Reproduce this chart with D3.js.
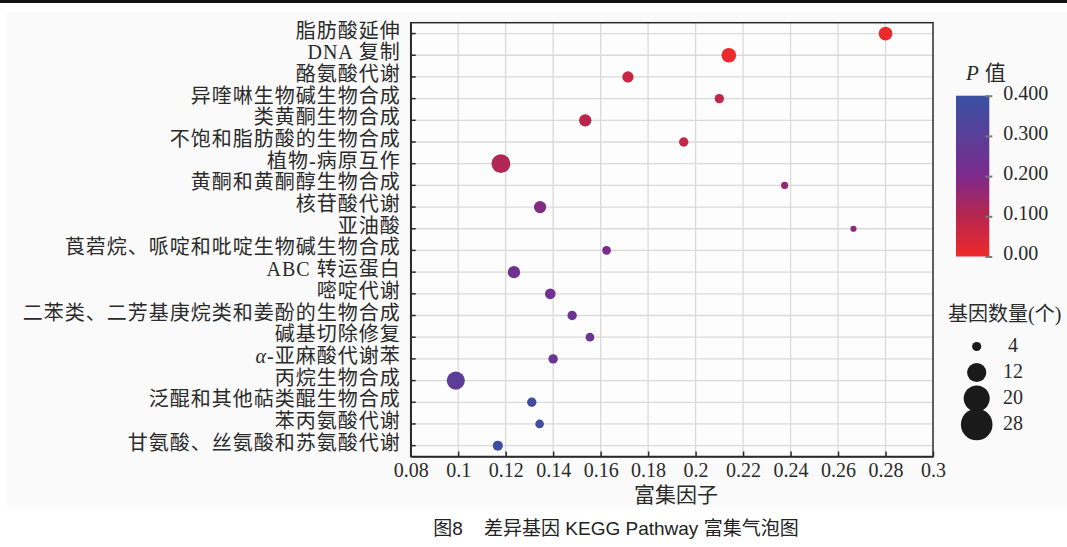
<!DOCTYPE html>
<html>
<head>
<meta charset="utf-8">
<script src="https://cdn.jsdelivr.net/npm/d3@7"></script>
<style>
  html, body { margin: 0; padding: 0; background: #ffffff; }
  svg { display: block; }
</style>
</head>
<body>
<svg id="chart" width="1067" height="547"></svg>
<script>
// KEGG pathways, top to bottom
const categories = [
  "脂肪酸延伸",
  "DNA 复制",
  "酪氨酸代谢",
  "异喹啉生物碱生物合成",
  "类黄酮生物合成",
  "不饱和脂肪酸的生物合成",
  "植物-病原互作",
  "黄酮和黄酮醇生物合成",
  "核苷酸代谢",
  "亚油酸",
  "莨菪烷、哌啶和吡啶生物碱生物合成",
  "ABC 转运蛋白",
  "嘧啶代谢",
  "二苯类、二芳基庚烷类和姜酚的生物合成",
  "碱基切除修复",
  "α-亚麻酸代谢苯",
  "丙烷生物合成",
  "泛醌和其他萜类醌生物合成",
  "苯丙氨酸代谢",
  "甘氨酸、丝氨酸和苏氨酸代谢"
];

// Rich factor per pathway
const enrichment = [0.280, 0.214, 0.1715, 0.210, 0.1535, 0.195, 0.118, 0.2375, 0.1345, 0.2665,
                    0.1625, 0.1235, 0.1388, 0.148, 0.1555, 0.140, 0.099, 0.131, 0.1343, 0.1167];

// P value per pathway
const pValues = [0.004, 0.008, 0.07, 0.085, 0.095, 0.08, 0.11, 0.16, 0.19, 0.18,
                 0.21, 0.23, 0.24, 0.245, 0.25, 0.255, 0.29, 0.37, 0.375, 0.39];

// Number of genes per pathway
const geneCounts = [15, 17, 10, 7, 12, 7, 28, 4, 12, 3,
                    6, 12, 9, 7, 6, 7, 26, 7, 6, 8];

const xTicks = [0.08, 0.1, 0.12, 0.14, 0.16, 0.18, 0.2, 0.22, 0.24, 0.26, 0.28, 0.3];
const pTicks = [0.4, 0.3, 0.2, 0.1, 0];
const pTickLabels = ["0.400", "0.300", "0.200", "0.100", "0.00"];
const sizeLegendValues = [4, 12, 20, 28];

const serif = '"Liberation Serif", "Noto Sans CJK SC", serif';
const sans = '"Liberation Sans", "Noto Sans CJK SC", sans-serif';

const svg = d3.select("#chart");

// page rule and panel tint
svg.append("rect").attr("x", 7).attr("y", 12).attr("width", 1060).attr("height", 495).attr("fill", "#fafafa");
svg.append("rect").attr("x", 0).attr("y", 0).attr("width", 1067).attr("height", 3).attr("fill", "#111");

const plot = { left: 410.7, right: 933, top: 22.7, bottom: 456.5 };

const x = d3.scaleLinear().domain([0.08, 0.3]).range([plot.left, plot.right]);
const y = d3.scaleBand().domain(categories).range([plot.top, plot.bottom]);
const yc = c => y(c) + y.bandwidth() / 2;

const color = d3.scaleLinear()
  .domain([0, 0.1, 0.2, 0.3, 0.4])
  .range(["#ee2a2a", "#b7264f", "#7d2a8b", "#593f99", "#3a50a3"])
  .interpolate(d3.interpolateRgb);

const size = d3.scaleSqrt().domain([0, 28]).range([0, 9.4]);

// plot background
svg.append("rect")
  .attr("x", plot.left).attr("y", plot.top)
  .attr("width", plot.right - plot.left).attr("height", plot.bottom - plot.top)
  .attr("fill", "#fdfdfd");

// grid
const grid = svg.append("g").attr("stroke", "#dadada").attr("stroke-width", 1.3);
grid.selectAll("line.v").data(xTicks.slice(1, -1)).join("line")
  .attr("class", "v")
  .attr("x1", d => x(d)).attr("x2", d => x(d))
  .attr("y1", plot.top).attr("y2", plot.bottom);
grid.selectAll("line.h").data(categories).join("line")
  .attr("class", "h")
  .attr("x1", plot.left).attr("x2", plot.right)
  .attr("y1", d => yc(d)).attr("y2", d => yc(d));

// frame
svg.append("rect")
  .attr("x", plot.left).attr("y", plot.top)
  .attr("width", plot.right - plot.left).attr("height", plot.bottom - plot.top)
  .attr("fill", "none").attr("stroke", "#2a2a2a").attr("stroke-width", 1.5);

// x axis
const xAxis = svg.append("g")
  .attr("transform", `translate(0,${plot.bottom})`)
  .call(d3.axisBottom(x).tickValues(xTicks)
    .tickFormat(d => String(+d.toFixed(2)))
    .tickSizeInner(-5).tickSizeOuter(0).tickPadding(6));
xAxis.select(".domain").attr("stroke", "#2a2a2a").attr("stroke-width", 1.5);
xAxis.selectAll(".tick line").attr("stroke", "#2a2a2a").attr("stroke-width", 1.5);
xAxis.selectAll(".tick text")
  .attr("font-family", serif).attr("font-size", 20).attr("fill", "#2a2a2a");

// y axis
const yAxis = svg.append("g")
  .attr("transform", `translate(${plot.left},0)`)
  .call(d3.axisLeft(y).tickSizeInner(-5).tickSizeOuter(0).tickPadding(10));
yAxis.select(".domain").attr("stroke", "#2a2a2a").attr("stroke-width", 1.5);
yAxis.selectAll(".tick line").attr("stroke", "#2a2a2a").attr("stroke-width", 1.5);
yAxis.selectAll(".tick text")
  .attr("font-family", serif).attr("font-size", 20).attr("letter-spacing", 1)
  .attr("fill", "#2a2a2a")
  .attr("dy", "0.2em")
  .each(function(d) {
    if (d.startsWith("α")) {
      const t = d3.select(this);
      t.text(null);
      t.append("tspan").attr("font-style", "italic").text("α");
      t.append("tspan").text(d.slice(1));
    }
  });

// bubbles
const data = categories.map((c, i) => ({
  name: c, rich: enrichment[i], p: pValues[i], n: geneCounts[i]
}));
svg.append("g").selectAll("circle").data(data).join("circle")
  .attr("cx", d => x(d.rich))
  .attr("cy", d => yc(d.name))
  .attr("r", d => size(d.n))
  .attr("fill", d => color(d.p));

// x axis title
svg.append("text")
  .attr("x", 676).attr("y", 495)
  .attr("text-anchor", "middle").attr("dominant-baseline", "central")
  .attr("font-family", serif).attr("font-size", 21).attr("fill", "#2a2a2a")
  .text("富集因子");

// caption
svg.append("text")
  .attr("x", 616).attr("y", 528)
  .attr("text-anchor", "middle").attr("dominant-baseline", "central")
  .attr("font-family", sans).attr("font-size", 19).attr("fill", "#222")
  .attr("xml:space", "preserve")
  .text("图8    差异基因 KEGG Pathway 富集气泡图");

// colour bar
const bar = { x: 956, width: 33.3 };
const pScale = d3.scaleLinear().domain([0, 0.4]).range([256.5, 95.7]);
const defs = svg.append("defs");
const grad = defs.append("linearGradient").attr("id", "pgrad")
  .attr("x1", 0).attr("y1", 1).attr("x2", 0).attr("y2", 0);
grad.selectAll("stop").data(d3.range(0, 1.0001, 0.05)).join("stop")
  .attr("offset", d => d)
  .attr("stop-color", d => color(d * 0.4));
svg.append("rect")
  .attr("x", bar.x).attr("y", pScale(0.4))
  .attr("width", bar.width).attr("height", pScale(0) - pScale(0.4))
  .attr("fill", "url(#pgrad)");
const pAxis = svg.append("g")
  .attr("transform", `translate(${bar.x + bar.width - 4},0)`)
  .call(d3.axisRight(pScale).tickValues(pTicks)
    .tickFormat(d => pTickLabels[pTicks.indexOf(d)])
    .tickSize(7).tickPadding(11));
pAxis.select(".domain").remove();
pAxis.selectAll(".tick line").attr("stroke", "#7a7a7a").attr("stroke-width", 2);
pAxis.selectAll(".tick text")
  .attr("font-family", serif).attr("font-size", 20).attr("fill", "#2a2a2a")
  .attr("dy", "0.17em");

const pTitle = svg.append("text")
  .attr("x", 966).attr("y", 73)
  .attr("dominant-baseline", "central")
  .attr("font-family", serif).attr("font-size", 21).attr("fill", "#2a2a2a");
pTitle.append("tspan").attr("font-style", "italic").text("P");
pTitle.append("tspan").attr("dx", 6).text("值");

// size legend
svg.append("text")
  .attr("x", 948).attr("y", 314)
  .attr("dominant-baseline", "central")
  .attr("font-family", serif).attr("font-size", 20).attr("fill", "#2a2a2a")
  .text("基因数量(个)");

const legendSize = d3.scaleSqrt().domain([4, 28]).range([4.6, 15.8]);
const legendRow = d3.scalePoint().domain(sizeLegendValues).range([346.5, 424.5]);
const leg = svg.append("g");
leg.selectAll("circle").data(sizeLegendValues).join("circle")
  .attr("cx", 976.7)
  .attr("cy", d => legendRow(d))
  .attr("r", d => legendSize(d))
  .attr("fill", "#1a1a1a");
leg.selectAll("text").data(sizeLegendValues).join("text")
  .attr("x", 1013)
  .attr("y", d => legendRow(d) - 1.5)
  .attr("text-anchor", "middle").attr("dominant-baseline", "central")
  .attr("font-family", serif).attr("font-size", 20).attr("fill", "#2a2a2a")
  .text(d => d);
</script>
</body>
</html>
